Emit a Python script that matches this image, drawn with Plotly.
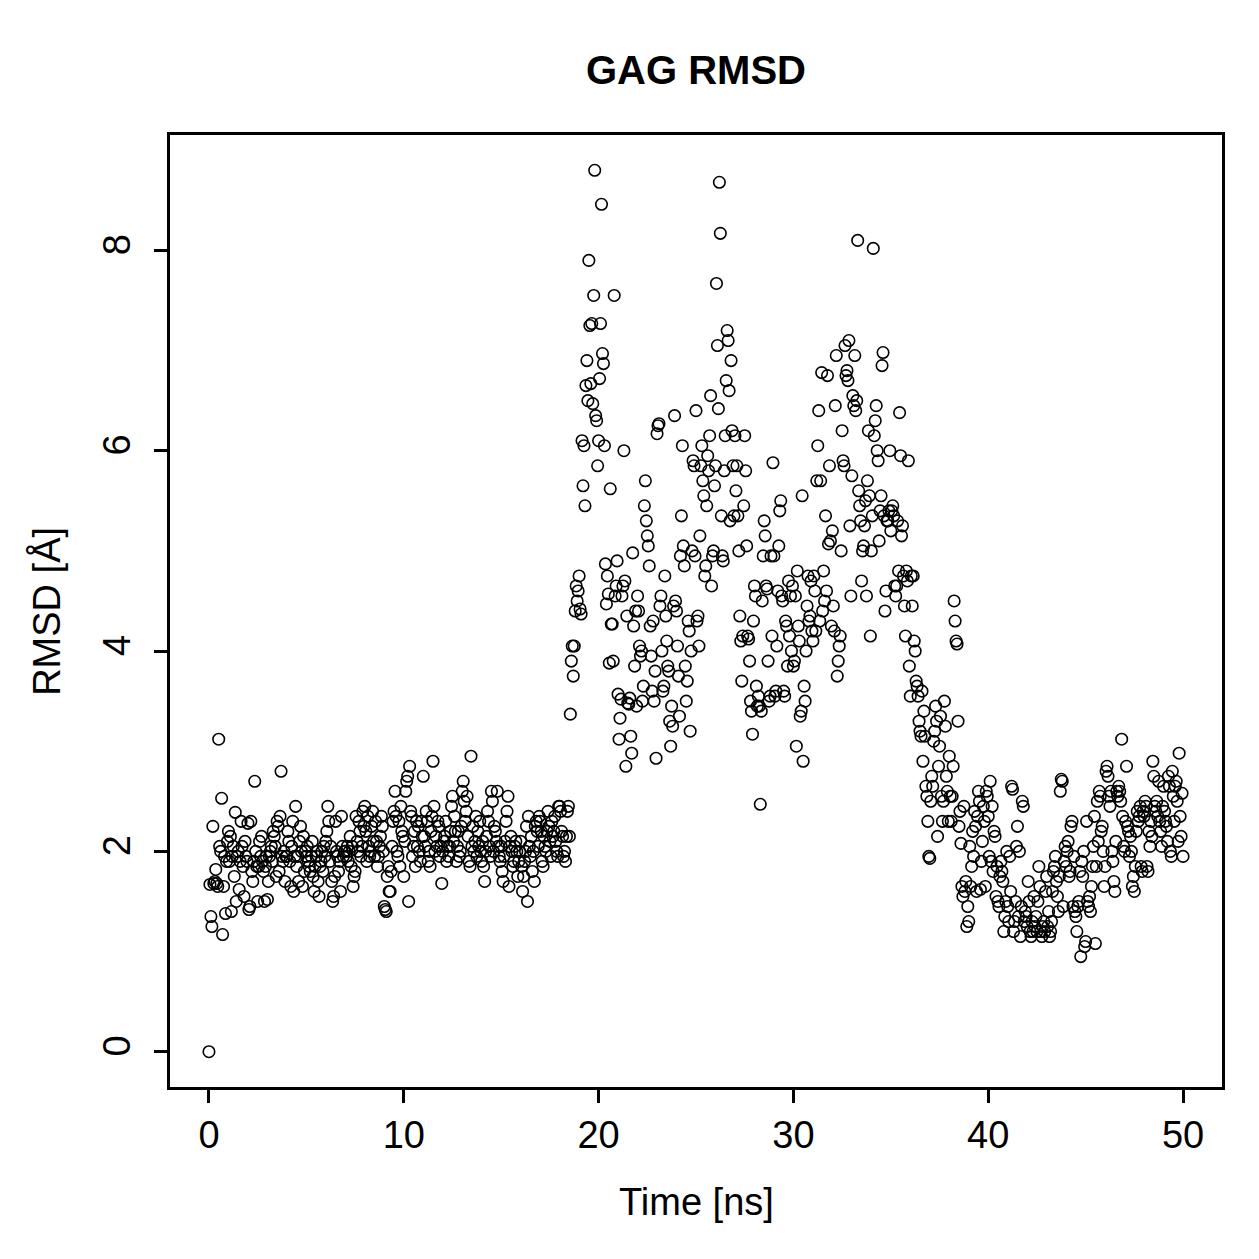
import numpy as np
import plotly.graph_objects as go

# RMSD values (Å), sampled every 0.05 ns from 0 to 50 ns
rmsd_00_10 = [
    0.00, 1.67, 1.35, 1.25, 2.25, 1.68, 1.70, 1.82, 1.68, 1.65,
    3.12, 2.05, 2.00, 2.53, 1.17, 1.65, 1.95, 1.38, 1.90, 2.10,
    2.20, 1.90, 2.15, 1.40, 1.95, 2.05, 1.75, 2.39, 1.50, 1.95,
    2.00, 1.62, 1.90, 2.30, 2.05, 1.85, 1.55, 2.10, 1.95, 1.90,
    2.28, 1.42, 1.45, 2.30, 1.80, 1.70, 1.90, 2.70, 2.00, 1.85,
    1.50, 1.85, 2.10, 1.95, 2.15, 1.90, 1.80, 1.50, 1.85, 1.95,
    1.52, 1.70, 1.95, 2.00, 2.05, 1.90, 2.20, 2.15, 2.05, 1.75,
    2.30, 2.25, 1.80, 2.35, 2.80, 1.95, 1.90, 2.00, 1.70, 1.95,
    1.95, 2.20, 2.10, 1.90, 1.65, 2.05, 2.30, 1.60, 1.95, 2.45,
    1.85, 1.95, 1.70, 2.10, 2.25, 2.00, 1.65, 2.15, 1.80, 2.00,
    1.95, 2.05, 1.90, 1.85, 1.80, 1.95, 2.10, 1.75, 1.60, 1.85,
    1.95, 2.00, 1.70, 1.55, 1.85, 1.90, 2.00, 1.80, 2.05, 1.95,
    2.10, 2.20, 2.45, 2.30, 1.90, 2.05, 1.70, 1.50, 1.55, 1.75,
    2.30, 2.00, 1.95, 1.80, 1.90, 1.60, 2.35, 2.05, 1.95, 2.00,
    2.00, 1.95, 2.05, 1.90, 2.00, 2.15, 1.85, 2.05, 1.65, 1.75,
    1.80, 2.35, 2.10, 2.00, 2.30, 2.20, 1.95, 2.05, 2.40, 2.25,
    2.45, 2.20, 1.90, 2.35, 2.05, 1.95, 2.00, 2.25, 2.40, 2.10,
    1.95, 2.30, 2.10, 1.85, 1.95, 2.05, 2.15, 2.35, 2.25, 2.00,
    1.45, 1.42, 1.40, 1.75, 1.85, 1.60, 1.60, 1.80, 2.05, 2.30,
    2.40, 2.60, 2.35, 2.00, 1.95, 2.30, 1.85, 2.45, 2.20, 2.15,
]
rmsd_10_20 = [
    1.75, 2.10, 2.60, 2.70, 2.75, 1.50, 2.85, 2.40, 2.35, 1.95,
    2.05, 2.20, 1.85, 2.30, 2.05, 2.25, 2.00, 1.90, 2.30, 2.15,
    2.75, 2.15, 2.05, 2.40, 2.30, 1.90, 2.00, 1.85, 2.20, 2.35,
    2.90, 2.45, 2.00, 2.15, 2.05, 2.30, 2.25, 1.95, 2.05, 1.68,
    2.00, 2.10, 2.15, 2.30, 1.90, 2.05, 1.95, 2.05, 2.20, 2.45,
    2.55, 2.10, 2.35, 2.20, 1.90, 2.05, 2.20, 1.95, 2.00, 2.25,
    2.60, 2.70, 2.50, 2.30, 2.40, 2.55, 2.15, 1.90, 1.85, 2.95,
    2.05, 2.25, 2.00, 2.10, 2.35, 1.95, 2.20, 2.05, 2.30, 2.00,
    1.90, 2.10, 1.85, 1.70, 2.00, 2.15, 2.40, 2.30, 2.05, 1.95,
    2.60, 2.50, 2.00, 2.25, 2.20, 2.10, 2.60, 2.05, 1.95, 1.90,
    2.05, 1.80, 1.70, 1.95, 2.10, 2.30, 2.40, 2.55, 1.65, 2.05,
    2.15, 2.00, 1.85, 1.90, 2.05, 2.10, 2.00, 1.75, 1.90, 2.00,
    2.10, 1.85, 1.60, 1.75, 1.90, 2.00, 2.25, 1.50, 2.35, 2.05,
    1.95, 2.15, 1.80, 2.00, 1.70, 2.25, 2.30, 2.20, 2.05, 2.35,
    2.30, 2.20, 1.90, 1.85, 2.15, 2.05, 2.00, 2.20, 2.40, 2.25,
    2.10, 1.95, 2.30, 2.15, 2.20, 2.35, 2.10, 2.00, 1.95, 2.45,
    2.45, 2.40, 2.20, 2.15, 1.95, 2.00, 1.90, 2.15, 2.40, 2.45,
    2.15, 3.37, 3.90, 4.05, 3.75, 4.05, 4.40, 4.65, 4.50, 4.60,
    4.75, 4.42, 4.37, 6.10, 5.65, 6.05, 5.45, 6.65, 6.90, 6.50,
    7.90, 7.25, 6.67, 7.27, 6.47, 7.55, 8.80, 6.35, 6.30, 5.85,
]
rmsd_20_30 = [
    6.10, 6.72, 7.27, 8.46, 6.97, 6.87, 6.05, 4.87, 4.47, 4.75,
    4.57, 3.88, 5.62, 4.27, 4.27, 3.90, 7.55, 4.55, 4.65, 4.90,
    3.57, 3.12, 3.33, 3.52, 4.55, 4.65, 6.00, 4.70, 2.85, 4.35,
    3.48, 3.47, 3.53, 3.15, 2.98, 4.98, 4.25, 3.85, 4.40, 3.45,
    4.55, 4.40, 4.05, 3.95, 4.00, 3.50, 3.65, 5.45, 5.70, 5.30,
    5.15, 5.05, 4.85, 4.25, 3.95, 3.60, 4.30, 3.50, 3.80, 2.93,
    6.17, 6.25, 6.27, 4.45, 4.55, 4.00, 3.60, 3.65, 4.75, 4.35,
    4.10, 3.85, 3.80, 3.30, 3.05, 3.45, 3.25, 4.45, 6.35, 4.50,
    4.40, 4.05, 3.75, 3.35, 4.95, 5.35, 6.05, 5.05, 4.85, 3.85,
    3.50, 3.70, 4.30, 4.20, 3.20, 4.00, 5.00, 5.90, 5.85, 4.95,
    6.40, 4.30, 4.35, 4.05, 5.15, 5.85, 6.05, 5.70, 5.55, 4.75,
    4.85, 5.45, 5.95, 5.80, 6.15, 6.55, 4.65, 4.95, 5.00, 5.65,
    5.85, 7.67, 7.05, 6.42, 8.68, 8.17, 5.35, 4.95, 4.90, 5.80,
    6.15, 6.70, 7.20, 7.10, 6.60, 5.30, 6.90, 6.20, 5.85, 5.35,
    6.15, 5.60, 5.85, 5.35, 5.00, 4.35, 4.10, 3.70, 4.15, 5.45,
    6.15, 5.80, 5.05, 4.15, 4.12, 3.90, 3.50, 3.40, 3.17, 4.30,
    4.65, 4.55, 3.65, 3.45, 3.55, 3.45, 2.47, 3.40, 4.50, 4.95,
    5.30, 5.15, 4.65, 4.62, 3.90, 3.50, 3.55, 4.95, 4.15, 5.88,
    4.95, 3.55, 3.60, 4.05, 4.60, 5.05, 5.40, 5.50, 4.55, 4.50,
    3.60, 3.55, 4.30, 4.25, 3.85, 4.70, 4.15, 4.55, 4.00, 4.65,
]
rmsd_30_40 = [
    3.85, 3.90, 4.55, 3.05, 4.80, 4.25, 4.10, 3.35, 3.40, 5.55,
    2.90, 3.65, 3.50, 4.00, 4.45, 4.75, 4.30, 4.35, 4.70, 4.20,
    4.10, 4.75, 4.60, 4.20, 5.70, 6.05, 6.40, 4.30, 5.70, 6.78,
    4.40, 4.80, 4.50, 5.35, 4.60, 6.75, 5.07, 5.85, 5.10, 4.25,
    5.20, 4.45, 4.20, 6.45, 6.95, 3.75, 3.90, 4.05, 4.15, 5.00,
    6.20, 5.90, 5.85, 7.05, 6.75, 6.80, 6.70, 7.10, 5.25, 4.55,
    5.75, 6.55, 6.45, 6.95, 6.40, 6.50, 8.10, 5.60, 5.45, 5.30,
    4.70, 5.00, 5.05, 5.25, 5.50, 4.55, 5.70, 6.20, 5.55, 4.15,
    5.00, 5.35, 8.02, 6.15, 6.30, 6.45, 6.00, 5.90, 5.10, 5.40,
    5.55, 6.85, 6.98, 5.35, 4.40, 4.60, 5.30, 5.30, 5.40, 6.00,
    5.20, 5.40, 5.45, 5.35, 4.65, 4.55, 4.65, 5.30, 4.80, 6.38,
    5.95, 5.15, 5.25, 4.75, 4.45, 4.15, 4.80, 4.70, 5.90, 3.85,
    3.55, 4.75, 4.45, 4.75, 4.10, 4.00, 3.70, 3.65, 3.55, 3.30,
    3.20, 3.15, 3.60, 2.90, 3.40, 3.15, 2.65, 2.55, 2.30, 1.95,
    1.93, 2.50, 2.75, 2.65, 3.10, 3.20, 3.45, 3.30, 2.15, 2.85,
    3.05, 3.35, 2.55, 2.30, 2.50, 3.50, 3.25, 2.75, 2.60, 2.30,
    2.95, 2.55, 2.30, 2.55, 2.85, 4.50, 4.30, 4.10, 4.07, 3.30,
    2.25, 2.40, 2.08, 1.65, 1.55, 2.45, 1.60, 1.70, 1.25, 1.45,
    1.30, 2.05, 1.65, 1.85, 2.20, 1.95, 2.40, 2.25, 1.60, 2.35,
    2.60, 2.50, 1.62, 1.90, 2.10, 2.45, 2.30, 1.65, 2.60, 2.55,
]
rmsd_40_50 = [
    2.35, 1.95, 2.70, 1.90, 2.45, 1.80, 2.20, 2.15, 1.55, 1.85,
    1.50, 1.45, 1.75, 1.90, 1.80, 1.70, 1.20, 1.35, 1.50, 2.00,
    1.45, 1.30, 1.95, 1.60, 2.65, 2.62, 1.20, 1.30, 1.50, 2.05,
    2.25, 1.35, 2.00, 1.15, 1.45, 2.50, 2.45, 1.30, 1.40, 1.35,
    1.25, 1.70, 1.50, 1.20, 1.15, 1.30, 1.20, 1.55, 1.25, 1.35,
    1.20, 1.50, 1.85, 1.65, 1.20, 1.15, 1.25, 1.30, 1.20, 1.60,
    1.75, 1.25, 1.40, 1.15, 1.20, 1.30, 1.60, 1.80, 1.85, 1.95,
    1.70, 1.55, 1.40, 1.75, 2.60, 2.72, 2.70, 1.45, 1.90, 2.05,
    1.85, 2.00, 2.10, 1.75, 1.80, 2.25, 2.30, 1.45, 1.95, 1.40,
    1.35, 1.20, 1.45, 1.50, 1.80, 0.95, 1.90, 1.75, 2.00, 1.05,
    1.10, 2.30, 1.50, 1.45, 1.55, 1.40, 1.65, 1.85, 2.05, 2.35,
    1.08, 1.85, 2.50, 2.10, 2.60, 2.55, 2.20, 2.25, 2.00, 1.65,
    1.85, 2.80, 2.85, 2.75, 2.55, 2.45, 2.60, 2.00, 1.90, 1.70,
    1.60, 2.10, 2.60, 2.55, 2.65, 2.60, 2.50, 3.12, 2.35, 2.05,
    2.00, 2.30, 2.85, 2.25, 2.20, 1.95, 2.15, 2.00, 1.65, 1.75,
    1.60, 1.85, 2.20, 2.40, 2.30, 2.35, 2.45, 1.85, 1.80, 2.40,
    2.35, 2.50, 2.45, 1.85, 1.80, 2.20, 2.05, 2.30, 2.15, 2.90,
    2.75, 2.45, 2.40, 2.50, 2.35, 2.70, 2.30, 2.20, 2.05, 2.45,
    2.65, 2.40, 2.30, 2.25, 2.10, 2.75, 2.65, 2.00, 1.95, 2.80,
    2.55, 2.30, 2.65, 2.70, 2.50, 2.10, 2.98, 2.35, 2.15, 2.58,
    1.95,
]

rmsd = rmsd_00_10 + rmsd_10_20 + rmsd_20_30 + rmsd_30_40 + rmsd_40_50
time_step_ns = 0.05
time_ns = [round(i * time_step_ns, 2) for i in range(len(rmsd))]

x_ticks = [0, 10, 20, 30, 40, 50]
y_ticks = [0, 2, 4, 6, 8]

FONT = "Liberation Sans, Arial, Helvetica, sans-serif"

fig = go.Figure()
fig.add_trace(go.Scatter(
    x=time_ns, y=rmsd, mode="markers",
    marker=dict(symbol="circle-open", size=11.5, color="black",
                line=dict(color="black", width=1.6)),
    hoverinfo="x+y",
))

axis_common = dict(
    showgrid=False, zeroline=False, showline=True, mirror=True,
    linecolor="black", linewidth=2.5, ticks="outside", ticklen=13,
    tickwidth=2.5, tickcolor="black",
    tickfont=dict(family=FONT, size=38, color="black"),
)

fig.update_layout(
    width=1259, height=1259,
    margin=dict(l=170, r=37, t=135, b=172),
    paper_bgcolor="white", plot_bgcolor="white",
    showlegend=False,
    font=dict(family=FONT, color="black"),
    xaxis=dict(range=[-2, 52], tickmode="array", tickvals=x_ticks,
               ticktext=[str(v) for v in x_ticks], **axis_common),
    yaxis=dict(range=[-0.352, 9.152], tickmode="array", tickvals=y_ticks,
               ticktext=[str(v) for v in y_ticks], tickangle=-90,
               ticklabelstandoff=9, **axis_common),
    annotations=[
        dict(text="<b>GAG RMSD</b>", x=0.5, y=1.068, xref="paper", yref="paper",
             xanchor="center", yanchor="middle", showarrow=False,
             font=dict(family=FONT, size=40, color="black")),
        dict(text="Time [ns]", x=0.5, y=-0.1208, xref="paper", yref="paper",
             xanchor="center", yanchor="middle", showarrow=False,
             font=dict(family=FONT, size=38, color="black")),
        dict(text="RMSD [Å]", x=-0.118, y=0.5, xref="paper", yref="paper",
             xanchor="center", yanchor="middle", showarrow=False, textangle=-90,
             font=dict(family=FONT, size=38, color="black")),
    ],
)

fig.write_html("out.html")
